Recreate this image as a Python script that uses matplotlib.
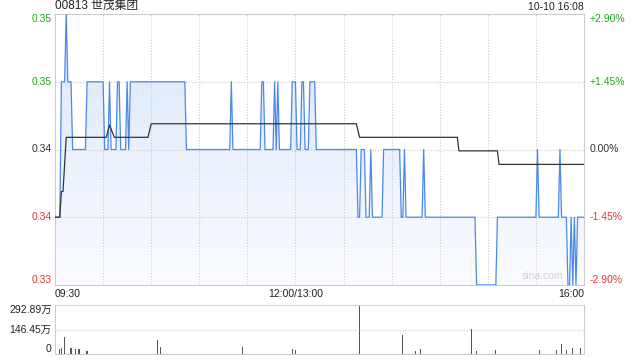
import numpy as np
import matplotlib
matplotlib.use('Agg')
import matplotlib.pyplot as plt
from matplotlib.colors import LinearSegmentedColormap

plt.rcParams['font.family'] = ['Liberation Sans', 'Noto Sans CJK SC', 'DejaVu Sans']

title = '00813 世茂集团'
stamp = '10-10 16:08'
prev_close = 0.345
pct_range = 0.029
n_minutes = 331

# price as run-lengths: (start minute, price)
seg_start = [0, 4, 7, 8, 11, 20, 31, 34, 35, 39, 41, 45, 46, 47, 82, 110, 111,
             129, 131, 137, 138, 139, 140, 148, 151, 154, 156, 159, 163, 189,
             191, 194, 197, 198, 205, 216, 218, 219, 230, 231, 263, 276, 301,
             302, 315, 316, 320, 322, 323, 324, 325, 326]
seg_price = [0.340, 0.350, 0.355, 0.350, 0.345, 0.350, 0.345, 0.350, 0.345,
             0.350, 0.345, 0.350, 0.345, 0.350, 0.345, 0.350, 0.345, 0.350,
             0.345, 0.350, 0.345, 0.350, 0.345, 0.350, 0.345, 0.350, 0.345,
             0.350, 0.345, 0.340, 0.345, 0.340, 0.345, 0.340, 0.345, 0.340,
             0.345, 0.340, 0.345, 0.340, 0.335, 0.340, 0.345, 0.340, 0.345,
             0.340, 0.335, 0.340, 0.335, 0.340, 0.335, 0.340]

avg_min = [0, 3, 4, 5, 7, 32, 34, 37, 58, 60, 188, 190, 251, 252, 276, 277, 330]
avg_val = [0.3400, 0.3400, 0.3419, 0.3419, 0.3459, 0.3459, 0.3468, 0.3459,
           0.3459, 0.3469, 0.3469, 0.3459, 0.3459, 0.3449, 0.3449, 0.3439, 0.3439]

# volume in 万
vol_min = [0, 3, 4, 6, 10, 13, 15, 20, 64, 66, 117, 148, 150, 190, 217, 225,
           228, 260, 263, 275, 302, 313, 316, 319, 323, 328]
vol_val = [48, 30, 38, 103, 38, 30, 32, 18, 86, 40, 44, 32, 24, 292.89, 113,
           20, 30, 147, 18, 24, 24, 26, 60, 24, 36, 36]
vol_max = 292.89

price_labels = ['0.35', '0.35', '0.34', '0.34', '0.33']
pct_labels = ['+2.90%', '+1.45%', '0.00%', '-1.45%', '-2.90%']
vol_labels = ['292.89万', '146.45万', '0']
time_ticks = [0, 150, 330]
time_labels = ['09:30', '12:00/13:00', '16:00']

green = '#22aa22'
red = '#ee3333'
grid_c = '#cccccc'

price = np.empty(n_minutes)
for i, s in enumerate(seg_start):
    e = seg_start[i + 1] if i + 1 < len(seg_start) else n_minutes
    price[s:e] = seg_price[i]
minutes = np.arange(n_minutes)

fig = plt.figure(figsize=(6.4, 3.6), dpi=100)
ax = fig.add_axes([55 / 640, 75 / 360, 529 / 640, 271 / 360])
axv = fig.add_axes([55 / 640, 6 / 360, 529 / 640, 49 / 360])

lo = prev_close * (1 - pct_range)
hi = prev_close * (1 + pct_range)
ax.set_xlim(0, n_minutes - 1)
ax.set_ylim(lo, hi)

# gradient fill under the price line
cmap = LinearSegmentedColormap.from_list('f', ['#fbfcff', '#d9e6fa'])
grad = np.linspace(0, 1, 256).reshape(-1, 1)
img = ax.imshow(grad, cmap=cmap, origin='lower', aspect='auto',
                extent=[0, n_minutes - 1, lo, hi], zorder=1)
poly = ax.fill_between(minutes, price, lo, color='none', lw=0)
img.set_clip_path(poly.get_paths()[0], transform=ax.transData)

ax.plot(minutes, price, color='#4a88ec', lw=0.9, zorder=3)
ax.plot(avg_min, avg_val, color='#333333', lw=0.9, zorder=4)

levels = [hi, prev_close * (1 + pct_range / 2), prev_close,
          prev_close * (1 - pct_range / 2), lo]
colors = [green, green, '#333333', red, red]
for k, (lv, lab, pl, c) in enumerate(zip(levels, price_labels, pct_labels, colors)):
    if 0 < k < 4:
        ax.axhline(lv, color=grid_c, lw=0.8, ls=(0, (1, 1.5)), zorder=2)
    va = 'top' if k == 0 else ('bottom' if k == 4 else 'center')
    ax.text(-0.006, lv, lab, transform=ax.get_yaxis_transform(),
            ha='right', va=va, color=c, fontsize=7.5)
    ax.text(1.01, lv, pl, transform=ax.get_yaxis_transform(),
            ha='left', va=va, color=c, fontsize=7.5)

for m in range(30, n_minutes - 1, 30):
    ax.axvline(m, color=grid_c, lw=0.8, ls=(0, (1, 1.5)), zorder=2)

for m, lab in zip(time_ticks, time_labels):
    ha = 'left' if m == 0 else ('right' if m == n_minutes - 1 else 'center')
    ax.text(m, -0.015, lab, transform=ax.get_xaxis_transform(),
            ha=ha, va='top', color='#222222', fontsize=7.5)

ax.text(0, 1.008, title, transform=ax.transAxes, ha='left', va='bottom',
        fontsize=8.5, color='#222222')
ax.text(1, 1.008, stamp, transform=ax.transAxes, ha='right', va='bottom',
        fontsize=7.5, color='#222222')
ax.text(0.96, 0.015, 'sina.com', transform=ax.transAxes, ha='right',
        va='bottom', fontsize=7.5, color='#d0d0d0', zorder=5)

ax.set_xticks([])
ax.set_yticks([])
for sp in ax.spines.values():
    sp.set_color(grid_c)
    sp.set_linewidth(0.8)

# volume panel
axv.bar(vol_min, vol_val, width=0.7, color='#555555')
axv.set_xlim(0, n_minutes - 1)
axv.set_ylim(0, vol_max)
axv.axhline(vol_max / 2, color=grid_c, lw=0.8, ls=(0, (1, 1.5)))
axv.set_xticks([])
axv.set_yticks([])
for side in ['left', 'right', 'bottom']:
    axv.spines[side].set_color(grid_c)
    axv.spines[side].set_linewidth(0.8)
axv.spines['top'].set_color(grid_c)
axv.spines['top'].set_linestyle((0, (1, 1.5)))
axv.spines['top'].set_linewidth(0.8)
vol_ticks = [vol_max, vol_max / 2, 0]
for k, (v, lab) in enumerate(zip(vol_ticks, vol_labels)):
    va = 'top' if k == 0 else ('bottom' if k == 2 else 'center')
    axv.text(-0.006, v, lab, transform=axv.get_yaxis_transform(),
             ha='right', va=va, color='#222222', fontsize=7.5)

fig.savefig('out.png', dpi=100)
